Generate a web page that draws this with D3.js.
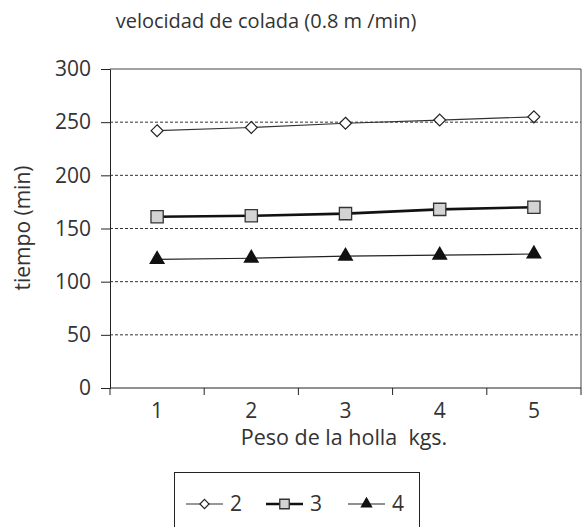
<!DOCTYPE html>
<html>
<head>
<meta charset="utf-8">
<script src="https://cdn.jsdelivr.net/npm/d3@7"></script>
<style>
	body { margin: 0; background: #fff; }
	svg text { font-family: "Open Sans", "Noto Sans", sans-serif; fill: #333; }
</style>
</head>
<body>
<svg id="chart" width="582" height="527"></svg>
<script>
var categories = ["1", "2", "3", "4", "5"];
var serie2 = [242, 245, 249, 252, 255];
var serie3 = [161, 162, 164, 168, 170];
var serie4 = [121, 122, 124, 125, 126];
var seriesNames = ["2", "3", "4"];
var yTicks = [0, 50, 100, 150, 200, 250, 300];

var svg = d3.select("#chart");
var margin = { top: 69, right: 1, bottom: 139, left: 110 };
var width = 582 - margin.left - margin.right;
var height = 527 - margin.top - margin.bottom;

var G = svg.append("g")
	.attr("transform", "translate(" + margin.left + "," + margin.top + ")");

var xScale = d3.scaleBand()
	.domain(categories)
	.range([0, width]);

var yScale = d3.scaleLinear()
	.domain([0, 300])
	.range([height, 0]);

// dotted grid lines
G.selectAll(".grid")
	.data(yTicks.filter(function(d) { return d > 0 && d < 300; }))
	.enter().append("line")
	.attr("x1", 0)
	.attr("x2", width)
	.attr("y1", function(d) { return yScale(d); })
	.attr("y2", function(d) { return yScale(d); })
	.attr("stroke", "#333")
	.attr("stroke-width", 1)
	.attr("stroke-dasharray", "3,2");

// plot frame (top + right)
G.append("path")
	.attr("d", "M0," + yScale(300) + "H" + width + "V" + height)
	.attr("fill", "none")
	.attr("stroke", "#444")
	.attr("stroke-width", 1);

var yAxis = d3.axisLeft(yScale).tickValues(yTicks).tickSize(9).tickPadding(10);
var yG = G.append("g").call(yAxis);
yG.select(".domain").attr("stroke", "#222");
yG.selectAll(".tick line").attr("stroke", "#222");
yG.selectAll("text").style("font-size", "21px").attr("fill", "#333");

// x axis: ticks at category boundaries
var xAxisG = G.append("g").attr("transform", "translate(0," + height + ")");
xAxisG.append("line")
	.attr("x1", 0).attr("x2", width)
	.attr("stroke", "#222");
var bounds = d3.range(categories.length + 1).map(function(i) {
	return i < categories.length ? xScale(categories[i]) : width;
});
xAxisG.selectAll(".xt")
	.data(bounds)
	.enter().append("line")
	.attr("x1", function(d) { return d; })
	.attr("x2", function(d) { return d; })
	.attr("y1", 0)
	.attr("y2", 7)
	.attr("stroke", "#222");
xAxisG.selectAll(".xl")
	.data(categories)
	.enter().append("text")
	.attr("x", function(d) { return xScale(d) + xScale.bandwidth() / 2; })
	.attr("y", 30)
	.attr("text-anchor", "middle")
	.style("font-size", "21px")
	.text(function(d) { return d; });

// titles
svg.append("text")
	.attr("x", 266)
	.attr("y", 28)
	.attr("text-anchor", "middle")
	.style("font-size", "20px")
	.text("velocidad de colada (0.8 m /min)");

svg.append("text")
	.attr("x", 344)
	.attr("y", 445)
	.attr("text-anchor", "middle")
	.style("font-size", "21.5px")
	.style("white-space", "pre")
	.attr("xml:space", "preserve")
	.text("Peso de la holla  kgs.");

svg.append("text")
	.attr("transform", "translate(30,228) rotate(-90)")
	.attr("text-anchor", "middle")
	.style("font-size", "21px")
	.text("tiempo (min)");

// series
var cx = function(d, i) { return xScale(categories[i]) + xScale.bandwidth() / 2; };
var line = d3.line()
	.x(cx)
	.y(function(d) { return yScale(d); });

var seriesList = [
	{ name: seriesNames[0], values: serie2, width: 1.2, color: "#333", symbol: d3.symbolDiamond2, size: 90, fill: "#fff", stroke: "#222", sw: 1.2 },
	{ name: seriesNames[1], values: serie3, width: 2.6, color: "#111", symbol: d3.symbolSquare, size: 150, fill: "#d3d3d3", stroke: "#333", sw: 1.3 },
	{ name: seriesNames[2], values: serie4, width: 1.2, color: "#222", symbol: d3.symbolTriangle, size: 110, fill: "#111", stroke: "#111", sw: 0 }
];

seriesList.forEach(function(s) {
	G.append("path")
		.datum(s.values)
		.attr("d", line)
		.attr("fill", "none")
		.attr("stroke", s.color)
		.attr("stroke-width", s.width);
	G.selectAll(null)
		.data(s.values)
		.enter().append("path")
		.attr("transform", function(d, i) { return "translate(" + cx(d, i) + "," + yScale(d) + ")"; })
		.attr("d", d3.symbol().type(s.symbol).size(s.size))
		.attr("fill", s.fill)
		.attr("stroke", s.stroke)
		.attr("stroke-width", s.sw);
});

// legend
var legend = svg.append("g");
legend.append("rect")
	.attr("x", 174.5)
	.attr("y", 472.5)
	.attr("width", 245)
	.attr("height", 70)
	.attr("fill", "#fff")
	.attr("stroke", "#222")
	.attr("stroke-width", 1);

var legendX = [186, 266, 348];
seriesList.forEach(function(s, i) {
	var x0 = legendX[i];
	var ly = 504;
	legend.append("line")
		.attr("x1", x0).attr("x2", x0 + 37)
		.attr("y1", ly).attr("y2", ly)
		.attr("stroke", s.color)
		.attr("stroke-width", s.width);
	legend.append("path")
		.attr("transform", "translate(" + (x0 + 18.5) + "," + ly + ")")
		.attr("d", d3.symbol().type(s.symbol).size(s.size * 0.6))
		.attr("fill", s.fill)
		.attr("stroke", s.stroke)
		.attr("stroke-width", s.sw);
	legend.append("text")
		.attr("x", x0 + 44)
		.attr("y", ly + 7)
		.style("font-size", "21px")
		.text(s.name);
});
</script>
</body>
</html>
